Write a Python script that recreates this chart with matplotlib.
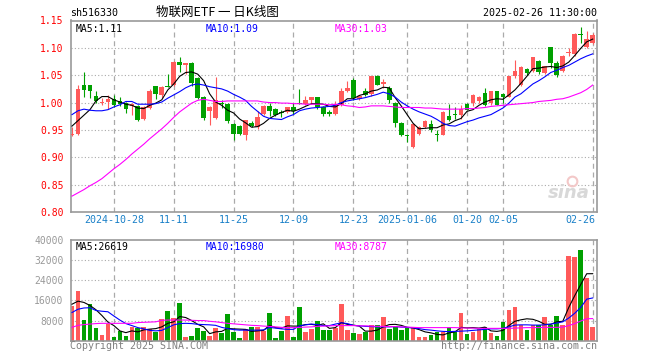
import numpy as np
import matplotlib
matplotlib.use('Agg')
import matplotlib.pyplot as plt

plt.rcParams['font.family'] = ['DejaVu Sans Mono', 'Noto Sans CJK SC']

# ---- daily candles, 2024-10-17 .. 2025-02-26 (88 trading days) ----
opens = [
    0.940, 0.942, 1.032, 1.032, 1.012, 0.999, 1.001, 1.006, 1.003, 0.999,
    0.993, 0.993, 0.970, 0.990, 1.030, 1.014, 1.030, 1.032, 1.075, 1.069,
    1.073, 1.045, 1.010, 0.984, 0.972, 0.999, 0.998, 0.961, 0.957, 0.941,
    0.962, 0.956, 0.980, 0.994, 0.988, 0.983, 0.983, 0.991, 1.000, 0.998,
    1.005, 1.010, 0.991, 0.983, 0.980, 0.996, 1.022, 1.042, 1.007, 1.022,
    1.015, 1.048, 1.034, 1.027, 1.000, 0.962, 0.941, 0.918, 0.943, 0.956,
    0.961, 0.942, 0.941, 0.976, 0.979, 0.978, 0.997, 0.999, 1.002, 1.018,
    1.000, 1.021, 1.016, 1.011, 1.048, 1.033, 1.062, 1.058, 1.076, 1.054,
    1.101, 1.073, 1.058, 1.090, 1.088, 1.126, 1.101, 1.109]
highs = [
    0.956, 1.032, 1.055, 1.033, 1.022, 1.008, 1.014, 1.014, 1.010, 1.001,
    0.999, 0.995, 0.993, 1.024, 1.031, 1.031, 1.052, 1.076, 1.084, 1.073,
    1.074, 1.047, 1.012, 0.993, 1.047, 1.004, 1.000, 0.962, 0.959, 0.969,
    0.966, 0.984, 0.996, 0.999, 0.990, 0.986, 0.992, 1.000, 1.025, 1.012,
    1.011, 1.011, 0.993, 0.986, 1.002, 1.027, 1.039, 1.044, 1.014, 1.026,
    1.049, 1.051, 1.043, 1.030, 1.001, 0.965, 0.942, 0.962, 0.957, 0.969,
    0.969, 0.950, 0.984, 0.998, 0.992, 0.996, 1.000, 1.015, 1.012, 1.026,
    1.022, 1.022, 1.017, 1.049, 1.077, 1.066, 1.064, 1.084, 1.078, 1.067,
    1.102, 1.076, 1.087, 1.100, 1.127, 1.139, 1.131, 1.127]
lows = [
    0.938, 0.940, 1.011, 1.009, 0.999, 0.996, 0.989, 0.992, 0.993, 0.981,
    0.977, 0.967, 0.969, 0.989, 1.006, 1.008, 1.028, 1.030, 1.055, 1.052,
    1.031, 1.006, 0.968, 0.959, 0.970, 0.990, 0.962, 0.931, 0.940, 0.931,
    0.955, 0.951, 0.978, 0.976, 0.975, 0.973, 0.981, 0.979, 0.997, 0.996,
    0.998, 0.989, 0.975, 0.976, 0.978, 0.994, 1.020, 1.005, 1.005, 1.012,
    1.012, 1.032, 1.027, 1.000, 0.955, 0.938, 0.928, 0.917, 0.941, 0.954,
    0.946, 0.930, 0.940, 0.966, 0.970, 0.970, 0.986, 0.994, 1.000, 0.994,
    0.996, 0.995, 1.000, 1.010, 1.045, 1.030, 1.051, 1.056, 1.053, 1.052,
    1.064, 1.047, 1.056, 1.086, 1.086, 1.109, 1.099, 1.107]
closes = [
    0.942, 1.025, 1.023, 1.022, 1.003, 1.000, 1.007, 0.996, 0.998, 0.989,
    0.997, 0.969, 0.991, 1.021, 1.015, 1.029, 1.029, 1.075, 1.068, 1.072,
    1.036, 1.008, 0.971, 0.992, 1.005, 0.998, 0.966, 0.943, 0.942, 0.968,
    0.957, 0.973, 0.994, 0.985, 0.977, 0.981, 0.991, 0.985, 0.998, 1.005,
    1.010, 0.991, 0.980, 0.980, 0.998, 1.022, 1.026, 1.008, 1.012, 1.013,
    1.048, 1.033, 1.037, 1.005, 0.962, 0.941, 0.939, 0.961, 0.955, 0.967,
    0.949, 0.940, 0.982, 0.968, 0.977, 0.988, 0.987, 1.013, 1.010, 0.995,
    1.021, 0.996, 1.010, 1.048, 1.058, 1.065, 1.054, 1.083, 1.056, 1.066,
    1.073, 1.051, 1.086, 1.093, 1.125, 1.124, 1.116, 1.123]

# price moving averages as drawn on the chart
ma5 = [
    0.957, 0.967, 0.977, 0.987, 1.003, 1.011, 1.011, 1.005, 1.001, 0.997,
    0.995, 0.990, 0.989, 0.995, 0.999, 1.005, 1.023, 1.034, 1.048, 1.055,
    1.056, 1.052, 1.040, 1.016, 1.001, 0.995, 0.986, 0.981, 0.970, 0.963,
    0.955, 0.956, 0.962, 0.971, 0.977, 0.982, 0.986, 0.984, 0.988, 0.993,
    0.998, 0.998, 0.997, 0.993, 0.992, 0.998, 1.007, 1.007, 1.013, 1.016,
    1.021, 1.023, 1.028, 1.027, 1.009, 0.994, 0.978, 0.962, 0.952, 0.953,
    0.954, 0.954, 0.959, 0.961, 0.967, 0.971, 0.984, 0.987, 0.995, 1.001,
    1.005, 1.007, 1.006, 1.014, 1.023, 1.035, 1.048, 1.062, 1.063, 1.065,
    1.066, 1.064, 1.067, 1.074, 1.086, 1.099, 1.111, 1.116]
ma10 = [
    0.978, 0.985, 0.988, 0.986, 0.985, 0.985, 0.987, 0.992, 0.996, 1.002,
    1.002, 0.997, 0.997, 0.997, 0.998, 1.001, 1.008, 1.014, 1.020, 1.027,
    1.032, 1.034, 1.032, 1.029, 1.027, 1.025, 1.021, 1.015, 1.010, 1.004,
    0.993, 0.984, 0.975, 0.971, 0.970, 0.969, 0.974, 0.978, 0.985, 0.988,
    0.990, 0.991, 0.992, 0.993, 0.995, 1.000, 1.003, 1.005, 1.007, 1.009,
    1.012, 1.015, 1.019, 1.016, 1.010, 1.001, 0.994, 0.988, 0.983, 0.979,
    0.975, 0.969, 0.962, 0.958, 0.957, 0.961, 0.965, 0.968, 0.972, 0.975,
    0.978, 0.984, 0.990, 0.999, 1.010, 1.016, 1.025, 1.034, 1.040, 1.047,
    1.055, 1.059, 1.064, 1.068, 1.074, 1.080, 1.085, 1.089]
ma30 = [
    0.829, 0.835, 0.841, 0.848, 0.854, 0.861, 0.870, 0.879, 0.887, 0.896,
    0.906, 0.915, 0.924, 0.934, 0.943, 0.952, 0.962, 0.973, 0.983, 0.991,
    0.999, 1.004, 1.006, 1.004, 1.002, 1.002, 1.003, 1.003, 1.003, 1.003,
    1.003, 1.003, 1.001, 1.000, 1.000, 0.999, 0.999, 0.998, 0.998, 0.997,
    0.997, 0.997, 0.997, 0.996, 0.997, 0.996, 0.994, 0.993, 0.991, 0.992,
    0.994, 0.994, 0.994, 0.993, 0.992, 0.991, 0.991, 0.991, 0.991, 0.990,
    0.990, 0.989, 0.988, 0.988, 0.988, 0.988, 0.989, 0.989, 0.990, 0.991,
    0.993, 0.994, 0.995, 0.996, 0.997, 0.998, 0.999, 1.000, 1.002, 1.003,
    1.004, 1.006, 1.007, 1.010, 1.014, 1.018, 1.024, 1.032]

# volume (lots) and its moving averages
volumes = [
    13780, 19875, 8215, 14575, 5035, 2385, 6625, 1590, 3840, 1855,
    5430, 4900, 5430, 4500, 3580, 8610, 11790, 8880, 14970, 1590,
    1990, 4900, 3840, 1855, 4900, 3180, 10600, 3310, 930, 4500,
    5565, 5565, 3840, 10865, 930, 3840, 9805, 1325, 13380, 3580,
    4500, 7820, 4240, 4240, 5170, 14575, 4240, 2915, 2520, 3310,
    6230, 6230, 9410, 4640, 5960, 4240, 5565, 4900, 1460, 1460,
    2250, 3310, 3310, 5430, 3310, 11000, 2650, 3580, 4500, 5430,
    3180, 1855, 7550, 12190, 13515, 6230, 4240, 6230, 6230, 9540,
    6230, 9940, 6230, 33790, 33390, 36040, 24780, 5565]
vol_ma5 = [
    14500, 15700, 15200, 14000, 12300, 10000, 7400, 6000, 3900, 3200,
    3900, 3500, 4300, 4600, 4800, 5500, 6900, 7500, 9600, 9200,
    8000, 6500, 5500, 2800, 3500, 3700, 4900, 4700, 4600, 4500,
    3700, 3900, 4100, 6100, 5200, 5000, 5900, 5800, 5800, 6400,
    6500, 6100, 6700, 4900, 5200, 7200, 6500, 6200, 5800, 3800,
    3800, 4200, 5500, 6400, 6500, 6100, 5300, 5100, 4400, 3500,
    3100, 2500, 2300, 3100, 3500, 5300, 5100, 5200, 5000, 5400,
    3900, 3700, 4100, 6000, 7700, 8300, 8700, 8500, 7700, 6500,
    6500, 7500, 7700, 13200, 17900, 22300, 26600, 26619]
vol_ma10 = [
    11200, 12500, 13000, 13100, 12000, 11700, 11500, 9800, 8200, 6800,
    6000, 5200, 4700, 4100, 3900, 4100, 5200, 6300, 6800, 6900,
    6800, 6500, 6400, 6300, 6100, 5300, 4800, 4400, 4200, 4200,
    4200, 4200, 4300, 5300, 5000, 4700, 4500, 4500, 5900, 6300,
    6600, 6400, 6000, 6000, 6600, 7100, 6800, 6100, 5900, 5700,
    5600, 5500, 5500, 5500, 5600, 5400, 5300, 5100, 4800, 4400,
    4200, 3900, 3700, 3600, 3700, 3800, 3900, 4100, 4300, 4500,
    4700, 4700, 4900, 5500, 6200, 6300, 6300, 6200, 6200, 6300,
    6600, 7000, 7500, 9000, 10900, 13200, 16500, 16980]
vol_ma30 = [
    5300, 6100, 6400, 6600, 6800, 6900, 6900, 6900, 6900, 6900,
    6900, 7200, 7300, 7400, 7500, 8100, 8200, 8200, 8200, 8200,
    8100, 8000, 8000, 7700, 7500, 7200, 6900, 6700, 6500, 6300,
    6100, 6000, 5800, 5700, 5500, 5300, 5200, 5200, 5300, 5400,
    5500, 5700, 5800, 5900, 6000, 6000, 6000, 6000, 5900, 5900,
    5800, 5700, 5700, 5600, 5600, 5500, 5400, 5300, 5200, 5200,
    5200, 5200, 5200, 5200, 5200, 5100, 5000, 5000, 4900, 4900,
    4900, 4900, 4900, 4900, 5000, 5100, 5200, 5200, 5200, 5300,
    5300, 5300, 5400, 6000, 6800, 7800, 8700, 8787]

date_idx = [7, 17, 27, 37, 47, 56, 66, 72, 87]
date_labels = ['2024-10-28', '11-11', '11-25', '12-09', '12-23',
               '2025-01-06', '01-20', '02-05', '02-26']
price_ticks = [0.80, 0.85, 0.90, 0.95, 1.00, 1.05, 1.10, 1.15]
vol_ticks = [8000, 16000, 24000, 32000, 40000]

RED = '#ff5a5a'
GREEN = '#00a000'
GRID = '#aaaaaa'
W, H = 660, 360


def fx(px):
    return px / W


def fy(py):
    return 1 - py / H


x = np.arange(len(closes))
o = np.array(opens)
c = np.array(closes)
colors = np.where(c >= o, RED, GREEN)

fig = plt.figure(figsize=(6.6, 3.6), dpi=100)
ax = fig.add_axes([fx(70.5), fy(212), (597.3 - 70.5) / W, (212 - 20.5) / H])
axv = fig.add_axes([fx(70.5), fy(340.7), (597.3 - 70.5) / W, (340.7 - 240) / H])

xlim = (-0.25, 87.77)

# ---- price panel ----
for y in price_ticks[1:-1]:
    ax.axhline(y, color=GRID, lw=0.8, ls=(0, (1, 2)), zorder=0)
for d in date_idx:
    ax.axvline(d, color=GRID, lw=0.9, ls=(0, (4, 3)), zorder=0)

ax.vlines(x, lows, highs, colors=colors, lw=0.8, zorder=2)
body_h = np.maximum(np.abs(c - o), 0.0016)
ax.bar(x, body_h, bottom=np.minimum(o, c), width=0.78, color=colors,
       linewidth=0, zorder=3)
ax.plot(x, ma5, color='black', lw=0.8, zorder=4)
ax.plot(x, ma10, color='#0000ff', lw=0.8, zorder=4)
ax.plot(x, ma30, color='#ff00ff', lw=0.8, zorder=4)

ax.set_xlim(*xlim)
ax.set_ylim(0.80, 1.15)
ax.set_yticks(price_ticks)
ax.set_yticklabels(['%.2f' % v for v in price_ticks])
ax.tick_params(axis='y', length=0, pad=5, labelsize=7, labelcolor='#ff0000')
ax.set_xticks([])
for d, lab in zip(date_idx, date_labels):
    ha = 'right' if d == date_idx[-1] else 'center'
    xx = d + 0.4 if d == date_idx[-1] else d
    ax.text(xx, -0.042, lab, transform=ax.get_xaxis_transform(), ha=ha,
            va='center', fontsize=7.2, color='#1a80c8')

ax.text(83.0, 0.835, 'sina', fontsize=13, fontstyle='italic', fontweight='bold',
        color='#d8d8d8', ha='center', va='center', family='DejaVu Sans', zorder=1)
ax.plot([83.5], [0.856], 'o', ms=7, mfc='none', mec='#f3c8c8', mew=1.5, zorder=1)

ax.text(0.009, 0.955, 'MA5:1.11', transform=ax.transAxes, fontsize=7,
        color='black', va='center')
ax.text(0.256, 0.955, 'MA10:1.09', transform=ax.transAxes, fontsize=7,
        color='#0000ff', va='center')
ax.text(0.502, 0.955, 'MA30:1.03', transform=ax.transAxes, fontsize=7,
        color='#ff00ff', va='center')

# ---- volume panel ----
for y in vol_ticks[:-1]:
    axv.axhline(y, color=GRID, lw=0.8, ls=(0, (1, 2)), zorder=0)
for d in date_idx:
    axv.axvline(d, color=GRID, lw=0.9, ls=(0, (4, 3)), zorder=0)

axv.bar(x, volumes, width=0.78, color=colors, linewidth=0, zorder=2)
axv.plot(x, vol_ma5, color='black', lw=0.8, zorder=4)
axv.plot(x, vol_ma10, color='#0000ff', lw=0.8, zorder=4)
axv.plot(x, vol_ma30, color='#ff00ff', lw=0.8, zorder=4)

axv.set_xlim(*xlim)
axv.set_ylim(0, 40000)
axv.set_yticks(vol_ticks)
axv.set_yticklabels([str(v) for v in vol_ticks])
axv.tick_params(axis='y', length=0, pad=5, labelsize=7, labelcolor='#999999')
axv.set_xticks([])

axv.text(0.009, 0.93, 'MA5:26619', transform=axv.transAxes, fontsize=7,
         color='black', va='center')
axv.text(0.256, 0.93, 'MA10:16980', transform=axv.transAxes, fontsize=7,
         color='#0000ff', va='center')
axv.text(0.502, 0.93, 'MA30:8787', transform=axv.transAxes, fontsize=7,
         color='#ff00ff', va='center')

for a in (ax, axv):
    for s in a.spines.values():
        s.set_color('#999999')
        s.set_linewidth(1.2)

# ---- header / footer ----
fig.text(fx(70), fy(13), 'sh516330', fontsize=7.2, color='black', va='center')
fig.text(fx(217), fy(12.5), '物联网ETF 一 日K线图', fontsize=9, color='black',
         ha='center', va='center', family=['Noto Sans CJK SC', 'DejaVu Sans'])
fig.text(fx(597), fy(13), '2025-02-26 11:30:00', fontsize=7.2, color='black',
         ha='right', va='center')
fig.text(fx(70), fy(346), 'Copyright 2025 SINA.COM', fontsize=7.2,
         color='#808080', va='center')
fig.text(fx(597.5), fy(346), 'http://finance.sina.com.cn', fontsize=7.2,
         color='#808080', ha='right', va='center')

plt.savefig('out.png', dpi=100)
